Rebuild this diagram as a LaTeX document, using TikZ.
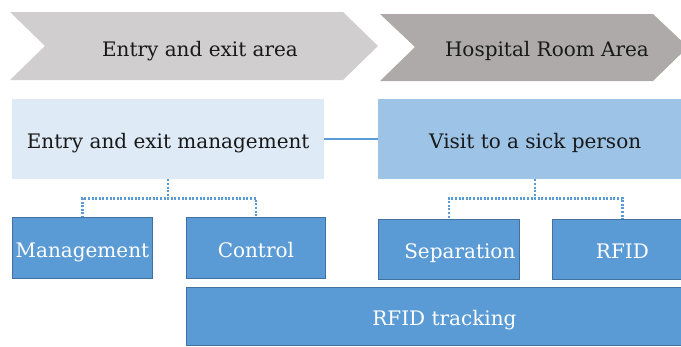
\documentclass[tikz,border=0pt]{standalone}
\usepackage{fontspec}
\setmainfont{DejaVu Serif}
\usetikzlibrary{positioning}
\definecolor{areagray}{HTML}{D0CECE}
\definecolor{roomgray}{HTML}{AEAAAA}
\definecolor{mgmtblue}{HTML}{DEEBF7}
\definecolor{visitblue}{HTML}{9DC3E6}
\definecolor{taskblue}{HTML}{5B9BD5}
\definecolor{taskedge}{HTML}{41719C}
\tikzset{
  areatext/.style={font=\fontsize{20}{23}\selectfont, text=black!90,
    text height=19pt, text depth=1pt},
  groupbox/.style={anchor=north west, minimum height=80pt, inner sep=0pt,
    font=\fontsize{20}{23}\selectfont, text=black!90, text height=19pt, text depth=1pt},
  taskbox/.style={anchor=north west, fill=taskblue, draw=taskedge, line width=0.8pt,
    inner sep=0pt, font=\fontsize{20}{23}\selectfont, text=white,
    text height=20pt, text depth=1pt},
  treeline/.style={draw=taskblue, line width=2.2pt, dash pattern=on 2pt off 1.6pt},
  joinline/.style={draw=taskblue, line width=2pt}
}

\begin{document}
\begin{tikzpicture}[x=1pt,y=-1pt]
    \useasboundingbox (0,0) rectangle (681,346);
    \clip (0,0) rectangle (681,346);
    % area arrows
    \fill [areagray] (10,12) -- (343,12) -- (378,46) -- (343,80) -- (10,80) -- (45,46) -- cycle;
    \fill [roomgray] (380,14) -- (653,14) -- (688,47) -- (653,81) -- (380,81) -- (415,47) -- cycle;
    \node [areatext] (entryarea) at (200,47) {Entry and exit area};
    \node [areatext] (roomarea) at (547,47) {Hospital Room Area};
    % groups
    \node [groupbox, fill=mgmtblue, minimum width=312pt] (entrymgmt) at (12,99) {Entry and exit management};
    \node [groupbox, fill=visitblue, minimum width=314pt] (visit) at (378,99) {Visit to a sick person};
    \draw [joinline] (entrymgmt.east) -- (visit.west);
    % tasks
    \node [taskbox, minimum width=140pt, minimum height=61pt] (management) at (12,217) {Management};
    \node [taskbox, minimum width=139pt, minimum height=61pt] (control) at (186,217) {Control};
    \node [taskbox, minimum width=141pt, minimum height=60pt, text width=133pt, align=right] (separation) at (378,219) {Separation};
    \node [taskbox, minimum width=140pt, minimum height=60pt] (rfid) at (552,219) {RFID};
    \node [taskbox, minimum width=516pt, minimum height=58pt] (tracking) at (186,287) {RFID tracking};
    % dotted tree lines
    \draw [treeline] (entrymgmt.south) -- ++(0,19) -| (management.north);
    \draw [treeline] (entrymgmt.south) -- ++(0,19) -| (control.north);
    \draw [treeline] (visit.south) -- ++(0,19) -| (separation.north);
    \draw [treeline] (visit.south) -- ++(0,19) -| (rfid.north);
\end{tikzpicture}
\end{document}
